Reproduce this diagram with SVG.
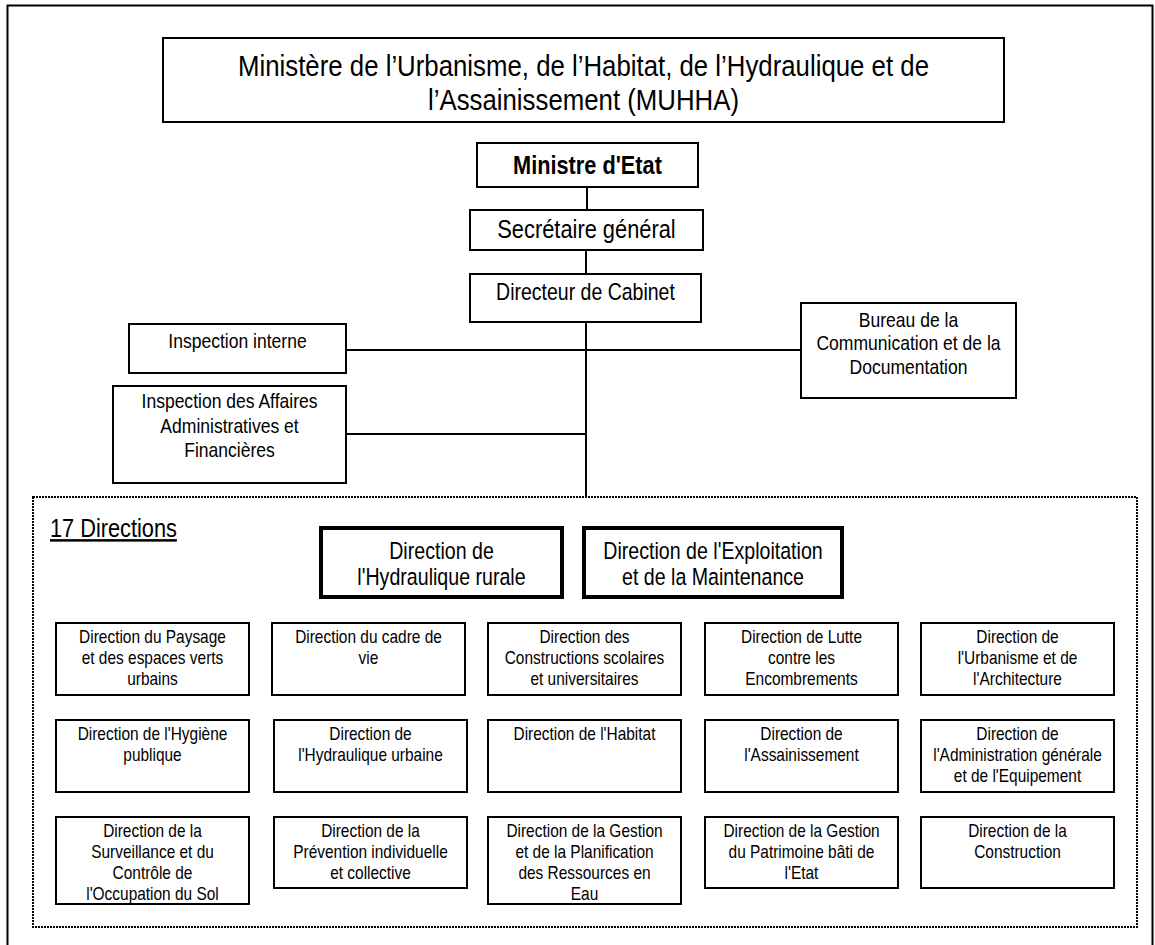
<svg xmlns="http://www.w3.org/2000/svg" width="1155" height="945" viewBox="0 0 1155 945">
<style>
.box{fill:#fff;stroke:#000;stroke-width:2}
.thick{fill:#fff;stroke:#000;stroke-width:4}
.t{font-family:'Liberation Sans',Arial,sans-serif;text-anchor:middle;fill:#000}
.g{font-size:18.5px}
.conn line{stroke:#000;stroke-width:2}
</style>
<rect x="0" y="0" width="1155" height="945" fill="#fff"/>
<rect x="7.5" y="5.5" width="1145" height="960" fill="none" stroke="#000" stroke-width="2"/>
<g id="conn" class="conn">
<line x1="587" y1="187" x2="587" y2="210"/>
<line x1="586" y1="250" x2="586" y2="274"/>
<line x1="586" y1="322" x2="586" y2="497"/>
<line x1="346" y1="350" x2="801" y2="350"/>
<line x1="346" y1="434" x2="586" y2="434"/>
</g>
<g id="title"><rect class="box" x="163" y="38" width="841" height="84"/>
<g transform="matrix(0.86,0,0,1,81.69,0)">
<text class="t" font-size="30" x="583.5" y="76">Ministère de l’Urbanisme, de l’Habitat, de l’Hydraulique et de</text>
<text class="t" font-size="30" x="583.5" y="110">l’Assainissement (MUHHA)</text></g></g>
<g id="ministre"><rect class="box" x="477" y="143" width="221" height="44"/>
<text class="t" font-size="25" font-weight="bold" x="587.5" y="174" transform="matrix(0.87,0,0,1,76.375,0)">Ministre d'Etat</text></g>
<g id="secretaire"><rect class="box" x="470" y="210" width="233" height="40"/>
<text class="t" font-size="26" x="586.5" y="238" transform="matrix(0.84,0,0,1,93.84,0)">Secrétaire général</text></g>
<g id="directeur"><rect class="box" x="470" y="274" width="231" height="48"/>
<text class="t" font-size="23.5" x="585.5" y="300.5" transform="matrix(0.83,0,0,1,99.535,0)">Directeur de Cabinet</text></g>
<g id="insp-interne"><rect class="box" x="129" y="324" width="217" height="49"/>
<text class="t" font-size="21" x="237.5" y="348.5" transform="matrix(0.835,0,0,1,39.19,0)">Inspection interne</text></g>
<g id="insp-affaires"><rect class="box" x="113" y="386" width="233" height="97"/>
<g transform="matrix(0.835,0,0,1,37.87,0)">
<text class="t" font-size="21" x="229.5" y="408.5">Inspection des Affaires</text>
<text class="t" font-size="21" x="229.5" y="433.5">Administratives et</text>
<text class="t" font-size="21" x="229.5" y="457.5">Financières</text></g></g>
<g id="bureau"><rect class="box" x="801" y="303" width="215" height="95"/>
<g transform="matrix(0.835,0,0,1,149.9,0)">
<text class="t" font-size="21" x="908.5" y="327">Bureau de la</text>
<text class="t" font-size="21" x="908.5" y="350.5">Communication et de la</text>
<text class="t" font-size="21" x="908.5" y="374">Documentation</text></g></g>
<g id="directions">
<rect x="33" y="497" width="1104" height="430" fill="none" stroke="#000" stroke-width="2" stroke-dasharray="2 1"/>
<text class="t" font-size="25" x="50" y="537" style="text-anchor:start;text-decoration:underline" transform="matrix(0.87,0,0,1,6.5,0)">17 Directions</text>
</g>
<g id="d-hydraulique-rurale"><rect class="thick" x="321" y="528" width="241" height="69"/>
<g transform="matrix(0.835,0,0,1,72.85,0)">
<text class="t" font-size="23.5" x="441.5" y="559.5">Direction de</text>
<text class="t" font-size="23.5" x="441.5" y="585.5">l'Hydraulique rurale</text></g></g>
<g id="d-exploitation"><rect class="thick" x="584" y="528" width="258" height="69"/>
<g transform="matrix(0.835,0,0,1,117.645,0)">
<text class="t" font-size="23.5" x="713" y="559.5">Direction de l'Exploitation</text>
<text class="t" font-size="23.5" x="713" y="585.5">et de la Maintenance</text></g></g>
<g id="d-paysage"><rect class="box" x="56" y="623" width="193" height="72"/>
<g transform="matrix(0.835,0,0,1,25.1625,0)">
<text class="t g" x="152.5" y="643.5">Direction du Paysage</text>
<text class="t g" x="152.5" y="664.5">et des espaces verts</text>
<text class="t g" x="152.5" y="685.5">urbains</text></g></g>
<g id="d-cadre-vie"><rect class="box" x="272" y="623" width="193" height="72"/>
<g transform="matrix(0.835,0,0,1,60.8025,0)">
<text class="t g" x="368.5" y="643.5">Direction du cadre de</text>
<text class="t g" x="368.5" y="664.5">vie</text></g></g>
<g id="d-constructions-scolaires"><rect class="box" x="488" y="623" width="193" height="72"/>
<g transform="matrix(0.835,0,0,1,96.4425,0)">
<text class="t g" x="584.5" y="643.5">Direction des</text>
<text class="t g" x="584.5" y="664.5">Constructions scolaires</text>
<text class="t g" x="584.5" y="685.5">et universitaires</text></g></g>
<g id="d-lutte"><rect class="box" x="705" y="623" width="193" height="72"/>
<g transform="matrix(0.835,0,0,1,132.2475,0)">
<text class="t g" x="801.5" y="643.5">Direction de Lutte</text>
<text class="t g" x="801.5" y="664.5">contre les</text>
<text class="t g" x="801.5" y="685.5">Encombrements</text></g></g>
<g id="d-urbanisme"><rect class="box" x="921" y="623" width="193" height="72"/>
<g transform="matrix(0.835,0,0,1,167.8875,0)">
<text class="t g" x="1017.5" y="643.5">Direction de</text>
<text class="t g" x="1017.5" y="664.5">l'Urbanisme et de</text>
<text class="t g" x="1017.5" y="685.5">l'Architecture</text></g></g>
<g id="d-hygiene"><rect class="box" x="56" y="720" width="193" height="72"/>
<g transform="matrix(0.835,0,0,1,25.1625,0)">
<text class="t g" x="152.5" y="740.5">Direction de l'Hygiène</text>
<text class="t g" x="152.5" y="761.5">publique</text></g></g>
<g id="d-hydraulique-urbaine"><rect class="box" x="274" y="720" width="193" height="72"/>
<g transform="matrix(0.835,0,0,1,61.1325,0)">
<text class="t g" x="370.5" y="740.5">Direction de</text>
<text class="t g" x="370.5" y="761.5">l'Hydraulique urbaine</text></g></g>
<g id="d-habitat"><rect class="box" x="488" y="720" width="193" height="72"/>
<g transform="matrix(0.835,0,0,1,96.4425,0)">
<text class="t g" x="584.5" y="740.5">Direction de l'Habitat</text></g></g>
<g id="d-assainissement"><rect class="box" x="705" y="720" width="193" height="72"/>
<g transform="matrix(0.835,0,0,1,132.2475,0)">
<text class="t g" x="801.5" y="740.5">Direction de</text>
<text class="t g" x="801.5" y="761.5">l'Assainissement</text></g></g>
<g id="d-administration"><rect class="box" x="921" y="720" width="193" height="72"/>
<g transform="matrix(0.835,0,0,1,167.8875,0)">
<text class="t g" x="1017.5" y="740.5">Direction de</text>
<text class="t g" x="1017.5" y="761.5">l'Administration générale</text>
<text class="t g" x="1017.5" y="782.5">et de l'Equipement</text></g></g>
<g id="d-surveillance"><rect class="box" x="56" y="817" width="193" height="87"/>
<g transform="matrix(0.835,0,0,1,25.1625,0)">
<text class="t g" x="152.5" y="837.5">Direction de la</text>
<text class="t g" x="152.5" y="858.5">Surveillance et du</text>
<text class="t g" x="152.5" y="879.5">Contrôle de</text>
<text class="t g" x="152.5" y="900.5">l'Occupation du Sol</text></g></g>
<g id="d-prevention"><rect class="box" x="274" y="817" width="193" height="71"/>
<g transform="matrix(0.835,0,0,1,61.1325,0)">
<text class="t g" x="370.5" y="837.5">Direction de la</text>
<text class="t g" x="370.5" y="858.5">Prévention individuelle</text>
<text class="t g" x="370.5" y="879.5">et collective</text></g></g>
<g id="d-gestion-eau"><rect class="box" x="488" y="817" width="193" height="87"/>
<g transform="matrix(0.835,0,0,1,96.4425,0)">
<text class="t g" x="584.5" y="837.5">Direction de la Gestion</text>
<text class="t g" x="584.5" y="858.5">et de la Planification</text>
<text class="t g" x="584.5" y="879.5">des Ressources en</text>
<text class="t g" x="584.5" y="900.5">Eau</text></g></g>
<g id="d-patrimoine"><rect class="box" x="705" y="817" width="193" height="71"/>
<g transform="matrix(0.835,0,0,1,132.2475,0)">
<text class="t g" x="801.5" y="837.5">Direction de la Gestion</text>
<text class="t g" x="801.5" y="858.5">du Patrimoine bâti de</text>
<text class="t g" x="801.5" y="879.5">l'Etat</text></g></g>
<g id="d-construction"><rect class="box" x="921" y="817" width="193" height="71"/>
<g transform="matrix(0.835,0,0,1,167.8875,0)">
<text class="t g" x="1017.5" y="837.5">Direction de la</text>
<text class="t g" x="1017.5" y="858.5">Construction</text></g></g>
</svg>
